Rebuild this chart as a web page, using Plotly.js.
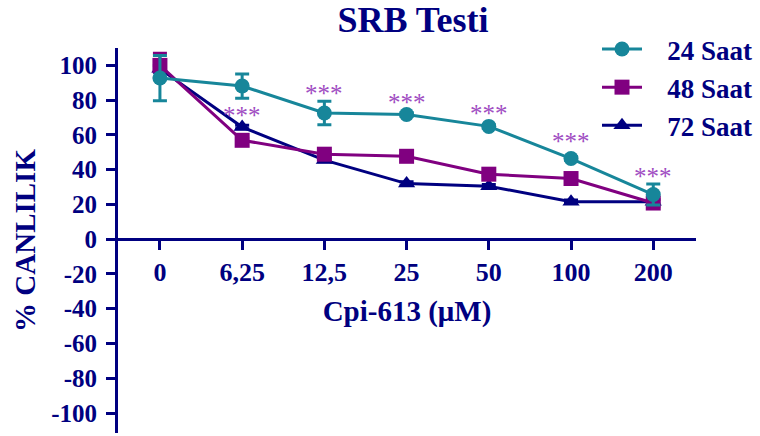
<!DOCTYPE html>
<html>
<head>
<meta charset="utf-8">
<script src="https://cdn.plot.ly/plotly-3.0.1.min.js"></script>
<style>html,body{margin:0;padding:0;background:#fff;}#chart{width:760px;height:436px;}</style>
</head>
<body>
<div id="chart"></div>
<script>
// ---- data ----
const categories = ['0', '6,25', '12,5', '25', '50', '100', '200'];
const seriesNames = ['24 Saat', '48 Saat', '72 Saat'];
const saat24 = [92.7, 88.1, 72.6, 71.7, 64.9, 46.4, 25.7];
const err24  = [13, 7, 6.7, 1, 1, 1, 6];
const saat48 = [100, 56.9, 48.9, 47.7, 37.4, 34.9, 20.8];
const err48  = [7, 1, 1, 1, 1, 1, 2];
const saat72 = [98, 64.5, 45.5, 32, 30.5, 21.5, 21.5];
const err72  = [2, 1, 1, 1, 1, 1, 1];
const sigCategories = ['6,25', '12,5', '25', '50', '100', '200'];
const sigValues = [74, 86.6, 81.4, 75, 58.8, 38.7];
const sigLabel = '***';
const yTickVals = [100, 80, 60, 40, 20, 0, -20, -40, -60, -80, -100];
const yTickText = ['100', '80', '60', '40', '20', '0', '-20', '-40', '-60', '-80', '-100'];

// ---- styles ----
const NAVY = '#000080', PURPLE = '#800080', TEAL = '#17869a', STAR = '#a04cc2';
const SERIF = '"Liberation Serif", "Times New Roman", serif';
const yRange = [-111.5, 110];
const NBSP = '\u00a0\u00a0\u00a0';
const bold = s => '<b>' + s + '</b>';

function trace(name, y, err, color, symbol, rank) {
  return {
    type: 'scatter', mode: 'lines+markers', name: NBSP + bold(name),
    x: categories, y: y,
    line: {color: color, width: 3},
    marker: {color: color, symbol: symbol, size: 15},
    error_y: {type: 'data', array: err, visible: true, color: color, thickness: 3, width: 7},
    legendgroup: 'g' + rank, legendrank: rank
  };
}

const data = [
  trace(seriesNames[2], saat72, err72, NAVY, 'triangle-up', 3),
  trace(seriesNames[1], saat48, err48, PURPLE, 'square', 2),
  trace(seriesNames[0], saat24, err24, TEAL, 'circle', 1)
];

const annotations = sigCategories.map((c, i) => ({
  x: categories.indexOf(c), y: sigValues[i], xref: 'x', yref: 'y', text: sigLabel, showarrow: false,
  yshift: -5, font: {family: SERIF, size: 25, color: STAR}
}));

const layout = {
  width: 760, height: 436,
  margin: {l: 118, r: 63, t: 48, b: 3},
  paper_bgcolor: '#ffffff', plot_bgcolor: '#ffffff',
  font: {family: SERIF, color: NAVY},
  title: {text: bold('SRB Testi'), x: 413 / 760, xref: 'container', xanchor: 'center',
          y: 1 - 19 / 436, yref: 'container', yanchor: 'middle',
          font: {family: SERIF, size: 36, color: NAVY}},
  xaxis: {
    type: 'category', range: [-0.51, 6.52],
    tickvals: categories, ticktext: categories.map(bold),
    anchor: 'free', position: (0 - yRange[0]) / (yRange[1] - yRange[0]),
    showline: true, linecolor: NAVY, linewidth: 3,
    ticks: 'outside', ticklen: 9, tickwidth: 3, tickcolor: NAVY,
    showgrid: false, zeroline: false,
    tickfont: {family: SERIF, size: 26, color: NAVY}, ticklabelstandoff: 0,
    title: {text: bold('Cpi-613 (μM)'), standoff: 14, font: {family: SERIF, size: 29, color: NAVY}}
  },
  yaxis: {
    range: yRange, tickvals: yTickVals, ticktext: yTickText.map(bold),
    showline: true, linecolor: NAVY, linewidth: 3,
    ticks: 'outside', ticklen: 9, tickwidth: 3, tickcolor: NAVY,
    showgrid: false, zeroline: false,
    tickfont: {family: SERIF, size: 25, color: NAVY}, ticklabelstandoff: 4,
    title: {text: bold('% CANLILIK'), standoff: 8, font: {family: SERIF, size: 29, color: NAVY}}
  },
  showlegend: true,
  legend: {
    x: (597 - 118) / 579, xanchor: 'left', y: (433 - 25) / 385, yanchor: 'top',
    bgcolor: 'rgba(0,0,0,0)', itemwidth: 40, traceorder: 'grouped', tracegroupgap: 0,
    font: {family: SERIF, size: 27, color: NAVY}
  },
  annotations: annotations
};

Plotly.newPlot('chart', data, layout, {displayModeBar: false, staticPlot: true});
</script>
</body>
</html>
